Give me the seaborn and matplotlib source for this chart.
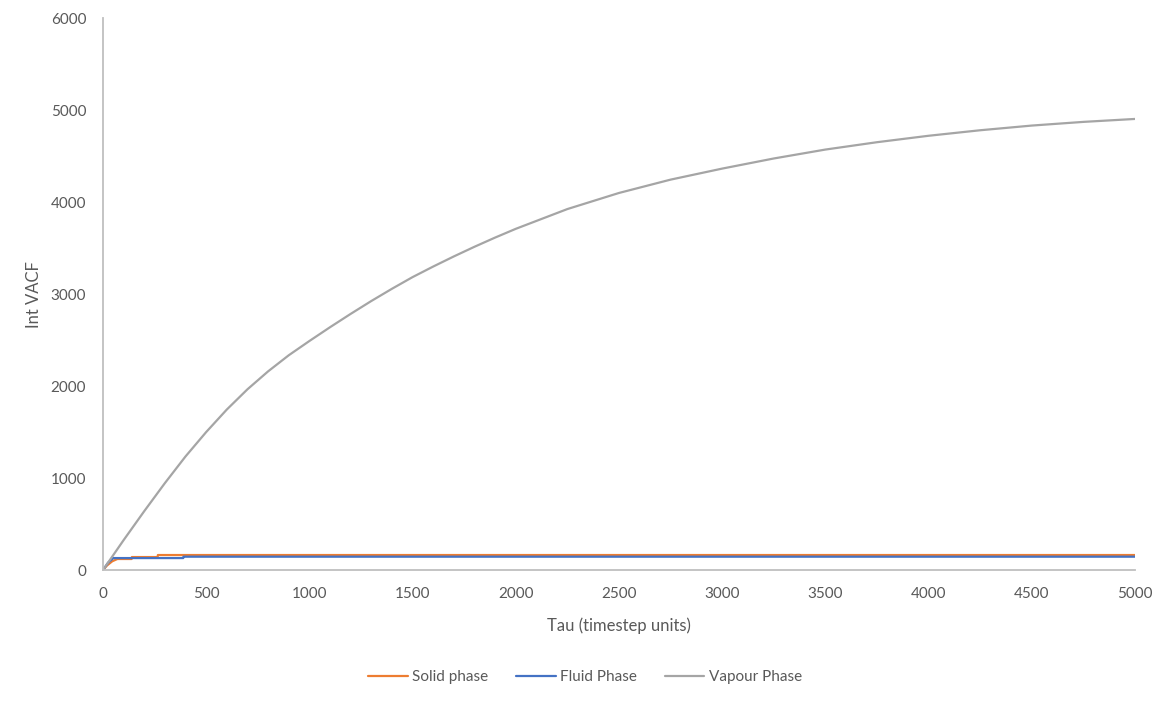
import pandas as pd
import matplotlib
matplotlib.use("Agg")
import matplotlib.pyplot as plt
from matplotlib.lines import Line2D
import seaborn as sns

# values
solid_tau = [0, 20, 45, 70, 139, 140, 265, 266, 5000]
solid_val = [0, 50, 95, 120, 120, 141, 141, 163, 163]

fluid_tau = [0, 25, 50, 389, 390, 5000]
fluid_val = [0, 80, 130, 130, 145, 145]

vapour_tau = [0, 100, 200, 300, 400, 500, 600, 700, 800, 900, 1000,
              1100, 1200, 1300, 1400, 1500, 1600, 1700, 1800, 1900, 2000,
              2250, 2500, 2750, 3000, 3250, 3500, 3750, 4000, 4250,
              4500, 4750, 5000]
vapour_val = [0, 325, 640, 945, 1235, 1500, 1745, 1965, 2160, 2335, 2490,
              2640, 2785, 2925, 3058, 3185, 3300, 3410, 3515, 3615, 3710,
              3925, 4100, 4245, 4365, 4475, 4572, 4652, 4722, 4782,
              4833, 4873, 4905]

series_names = ["Solid phase", "Fluid Phase", "Vapour Phase"]
colors = {"Solid phase": "#ED7D31", "Fluid Phase": "#4472C4", "Vapour Phase": "#A5A5A5"}

frames = []
for name, t, v in zip(series_names,
                      [solid_tau, fluid_tau, vapour_tau],
                      [solid_val, fluid_val, vapour_val]):
    frames.append(pd.DataFrame({"tau": t, "vacf": v, "series": name}))
df = pd.concat(frames, ignore_index=True)

sns.set_style("white")
plt.rcParams["font.family"] = ["Lato", "DejaVu Sans"]

fig = plt.figure(figsize=(11.7, 7.02), dpi=100)
ax = fig.add_axes([0.088, 0.188, 0.882, 0.786])

sns.lineplot(data=df, x="tau", y="vacf", hue="series", palette=colors,
             hue_order=series_names, estimator=None, sort=False,
             linewidth=1.6, legend=False, ax=ax)

ax.set_xlim(0, 5000)
ax.set_ylim(0, 6000)
ax.set_xticks(range(0, 5001, 500))
ax.set_yticks(range(0, 6001, 1000))
ax.tick_params(length=0, labelsize=11, labelcolor="#595959", pad=12)

for side in ["top", "right"]:
    ax.spines[side].set_visible(False)
for side in ["left", "bottom"]:
    ax.spines[side].set_color("#BFBFBF")
    ax.spines[side].set_linewidth(1.3)

ax.set_xlabel("Tau (timestep units)", fontsize=12, color="#595959", labelpad=12)
ax.set_ylabel("Int VACF", fontsize=12, color="#595959", labelpad=6)

handles = [Line2D([0], [0], color=colors[n], lw=1.6) for n in series_names]
fig.legend(handles, series_names, loc="center", bbox_to_anchor=(0.5, 0.035),
           ncol=3, frameon=False, fontsize=11, handlelength=2.6,
           handletextpad=0.3, columnspacing=1.8, labelcolor="#595959")

plt.savefig("out.png", dpi=100)
plt.close()
